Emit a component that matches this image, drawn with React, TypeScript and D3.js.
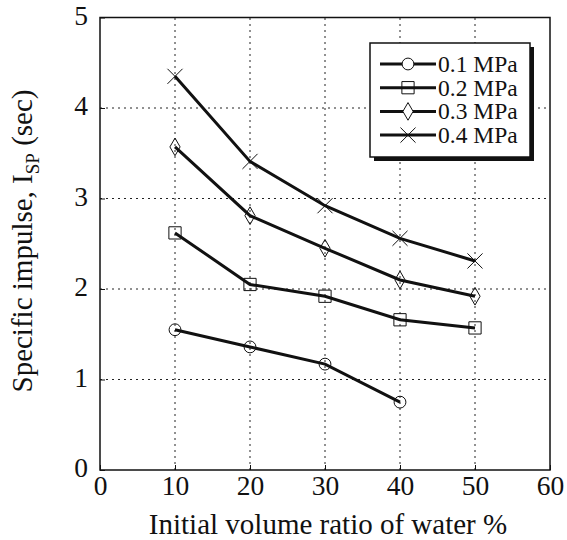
import { useEffect, useRef } from "react";
import * as d3 from "d3";

const ratios = [10, 20, 30, 40, 50];
const p01 = [1.55, 1.36, 1.17, 0.75];
const p02 = [2.62, 2.05, 1.92, 1.66, 1.57];
const p03 = [3.57, 2.81, 2.45, 2.1, 1.92];
const p04 = [4.35, 3.41, 2.92, 2.56, 2.31];
const seriesNames = ["0.1 MPa", "0.2 MPa", "0.3 MPa", "0.4 MPa"];
const markers = ["circle", "square", "diamond", "cross"];
const xTicks = [0, 10, 20, 30, 40, 50, 60];
const yTicks = [0, 1, 2, 3, 4, 5];

export default function App() {
  const ref = useRef<SVGSVGElement>(null);

  useEffect(() => {
    const svg = d3.select(ref.current);
    svg.selectAll("*").remove();
    const font = "'Liberation Serif', 'Times New Roman', serif";

    const x = d3.scaleLinear().domain([0, 60]).range([100, 550]);
    const y = d3.scaleLinear().domain([0, 5]).range([470, 17.5]);

    // grid
    const grid = svg.append("g").attr("stroke", "#222").attr("stroke-width", 1).attr("stroke-dasharray", "2,4");
    xTicks.slice(1, -1).forEach((t) => {
      grid.append("line").attr("x1", x(t)).attr("x2", x(t)).attr("y1", y(0)).attr("y2", y(5));
    });
    yTicks.slice(1, -1).forEach((t) => {
      grid.append("line").attr("x1", x(0)).attr("x2", x(60)).attr("y1", y(t)).attr("y2", y(t));
    });

    // frame
    svg.append("rect")
      .attr("x", x(0)).attr("y", y(5))
      .attr("width", x(60) - x(0)).attr("height", y(0) - y(5))
      .attr("fill", "none").attr("stroke", "#111").attr("stroke-width", 1.5);

    // ticks
    const xAxis = svg.append("g").attr("transform", `translate(0,${y(0)})`)
      .call(d3.axisBottom(x).tickValues(xTicks).tickSize(-5).tickPadding(5).tickFormat(d3.format("d")));
    const yAxis = svg.append("g").attr("transform", `translate(${x(0)},0)`)
      .call(d3.axisLeft(y).tickValues(yTicks).tickSize(-5).tickPadding(12).tickFormat(d3.format("d")));
    [xAxis, yAxis].forEach((a) => {
      a.select(".domain").remove();
      a.selectAll("line").attr("stroke", "#111");
      a.selectAll("text").attr("font-family", font).attr("font-size", 27.5).attr("fill", "#111");
    });
    yAxis.selectAll("text").attr("dy", "0.25em");

    const symbolFor = (m: string) => {
      if (m === "circle") return d3.symbol(d3.symbolCircle, 110)();
      if (m === "square") return d3.symbol(d3.symbolSquare, 150)();
      if (m === "diamond") return d3.symbol(d3.symbolDiamond, 90)();
      return d3.symbol(d3.symbolX, 150)();
    };

    const all = [p01, p02, p03, p04];
    const line = d3.line<number>().x((_, i) => x(ratios[i])).y((d) => y(d));

    all.forEach((vals, s) => {
      svg.append("path").attr("d", line(vals)).attr("fill", "none")
        .attr("stroke", "#111").attr("stroke-width", 3);
      svg.selectAll(`.m${s}`).data(vals).enter().append("path")
        .attr("class", `m${s}`)
        .attr("d", symbolFor(markers[s]))
        .attr("transform", (d, i) => `translate(${x(ratios[i])},${y(d)})`)
        .attr("fill", "none").attr("stroke", "#111").attr("stroke-width", 1);
    });

    // legend
    const lg = svg.append("g");
    lg.append("rect").attr("x", 374).attr("y", 47).attr("width", 160).attr("height", 114).attr("fill", "#111");
    lg.append("rect").attr("x", 370).attr("y", 43).attr("width", 160).attr("height", 114)
      .attr("fill", "#fff").attr("stroke", "#111").attr("stroke-width", 1.5);
    seriesNames.forEach((name, s) => {
      const ly = 64 + s * 23.7;
      lg.append("line").attr("x1", 380).attr("x2", 436).attr("y1", ly).attr("y2", ly)
        .attr("stroke", "#111").attr("stroke-width", 3);
      lg.append("path").attr("d", symbolFor(markers[s])).attr("transform", `translate(408,${ly})`)
        .attr("fill", markers[s] === "circle" || markers[s] === "diamond" ? "#fff" : "none")
        .attr("stroke", "#111").attr("stroke-width", 1);
      lg.append("text").attr("x", 438).attr("y", ly + 8).attr("font-family", font)
        .attr("font-size", 23.5).attr("fill", "#111").text(name);
    });

    // axis titles
    svg.append("text").attr("x", 328).attr("y", 534).attr("text-anchor", "middle")
      .attr("font-family", font).attr("font-size", 29).attr("fill", "#111")
      .text("Initial volume ratio of water %");

    const yt = svg.append("text").attr("transform", "translate(32,241) rotate(-90)")
      .attr("text-anchor", "middle").attr("font-family", font).attr("font-size", 29).attr("fill", "#111");
    yt.append("tspan").text("Specific impulse, I");
    yt.append("tspan").attr("dy", 7).attr("font-size", 19).text("SP");
    yt.append("tspan").attr("dy", -7).text(" (sec)");
  }, []);

  return <svg ref={ref} width={567} height={540} style={{ position: "absolute", left: 0, top: 0 }} />;
}
